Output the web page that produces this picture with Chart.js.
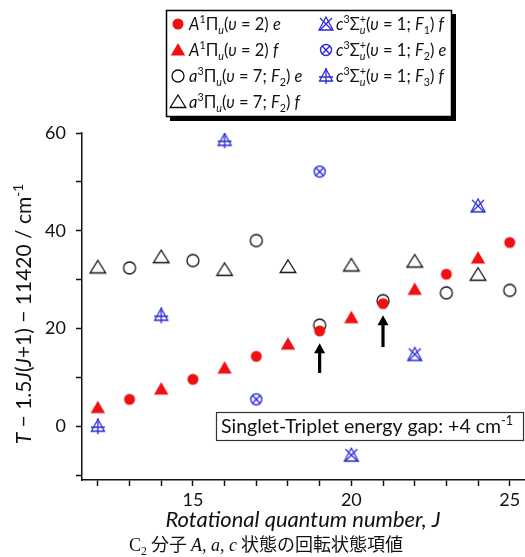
<!DOCTYPE html>
<html><head><meta charset="utf-8">
<script src="https://cdn.jsdelivr.net/npm/chart.js@4/dist/chart.umd.min.js"></script>
<style>html,body{margin:0;padding:0;background:#fff;} #wrap{width:525px;height:557px;position:relative;}</style>
</head><body><div id="wrap"><canvas id="c" width="525" height="557"></canvas></div>
<script>
// ---- data ----
const J_A_e = [13,15,17,19,21,23,25];
const A_e   = [5.5,9.6,14.3,19.5,25.1,31.1,37.6];
const J_A_f = [12,14,16,18,20,22,24];
const A_f   = [3.8,7.6,11.9,16.8,22.2,28.0,34.4];
const J_a_e = [13,15,17,19,21,23,25];
const a_e   = [32.4,33.9,38.0,20.7,25.7,27.3,27.8];
const J_a_f = [12,14,16,18,20,22,24];
const a_f   = [32.5,34.6,32.0,32.6,32.9,33.7,31.0];
const J_c_F1f = [20,22,24];
const c_F1f   = [-5.9,14.7,45.1];
const J_c_F2e = [17,19];
const c_F2e   = [5.5,52.1];
const J_c_F3f = [12,14,16];
const c_F3f   = [0.0,22.7,58.5];
const arrowJ    = [19,21];
const arrowFrom = [10.9,16.2];
const arrowTo   = [17.0,22.7];
const xTickLabels = [15,20,25];
const yTickLabels = [0,20,40,60];

const RED='#ee1111', BLUE='#2a2ad8', BLK='#111111';
const FAM='Lato, "Open Sans", sans-serif';

function drawMarker(g,type,x,y){
  g.save();
  g.lineJoin='miter';
  switch(type){
    case 'dot': g.fillStyle=RED; g.beginPath(); g.arc(x,y,5.5,0,2*Math.PI); g.fill(); break;
    case 'tri': g.fillStyle=RED; g.beginPath(); g.moveTo(x,y-7); g.lineTo(x+7.2,y+5.5); g.lineTo(x-7.2,y+5.5); g.closePath(); g.fill(); break;
    case 'ocirc': g.strokeStyle=BLK; g.lineWidth=1.3; g.beginPath(); g.arc(x,y,6,0,2*Math.PI); g.stroke(); break;
    case 'otri': g.strokeStyle=BLK; g.lineWidth=1.3; g.beginPath(); g.moveTo(x,y-7); g.lineTo(x+7.8,y+5.5); g.lineTo(x-7.8,y+5.5); g.closePath(); g.stroke(); break;
    case 'triX': g.strokeStyle=BLUE; g.lineWidth=1.3; g.beginPath(); g.moveTo(x,y-7); g.lineTo(x+7,y+6); g.lineTo(x-7,y+6); g.closePath(); g.stroke();
      g.beginPath(); g.moveTo(x-6,y-6); g.lineTo(x+6,y+6); g.moveTo(x+6,y-6); g.lineTo(x-6,y+6); g.stroke(); break;
    case 'circX': g.strokeStyle=BLUE; g.lineWidth=1.4; g.beginPath(); g.arc(x,y,5.5,0,2*Math.PI); g.stroke();
      g.beginPath(); g.moveTo(x-3.9,y-3.9); g.lineTo(x+3.9,y+3.9); g.moveTo(x+3.9,y-3.9); g.lineTo(x-3.9,y+3.9); g.stroke(); break;
    case 'triPlus': g.strokeStyle=BLUE; g.lineWidth=1.3; g.beginPath(); g.moveTo(x,y-7); g.lineTo(x+6.5,y+5); g.lineTo(x-6.5,y+5); g.closePath(); g.stroke();
      g.beginPath(); g.moveTo(x,y-8); g.lineTo(x,y+8); g.moveTo(x-7,y+1); g.lineTo(x+7,y+1); g.stroke(); break;
  }
  g.restore();
}
function makeMarker(type){
  const s=22, c=document.createElement('canvas'); c.width=s; c.height=s;
  drawMarker(c.getContext('2d'),type,s/2,s/2); return c;
}
function pts(xs,ys){ return xs.map((x,i)=>({x:x,y:ys[i]})); }

// rich text: segments {t, i, sup, sub} or {stack:true, sup, sub, supI, subI}
function drawRich(ctx,segs,x,y,size,fam,measureOnly){
  let cx=x; const ss=size*0.65;
  for(const s of segs){
    if(s.stack){
      ctx.font=(s.supI?'italic ':'')+ss+'px '+fam; const w1=ctx.measureText(s.sup).width;
      if(!measureOnly) ctx.fillText(s.sup,cx,y-size*0.4);
      ctx.font=(s.subI?'italic ':'')+ss+'px '+fam; const w2=ctx.measureText(s.sub).width;
      if(!measureOnly) ctx.fillText(s.sub,cx,y+size*0.22);
      cx+=Math.max(w1,w2); continue;
    }
    const small=s.sup||s.sub;
    ctx.font=(s.i?'italic ':'')+(small?ss:size)+'px '+(s.fam||fam);
    const dy=s.sup?-size*0.4:(s.sub?size*0.22:0);
    if(!measureOnly) ctx.fillText(s.t,cx,y+dy);
    cx+=ctx.measureText(s.t).width;
  }
  return cx-x;
}

const legendItems = [
  {m:'dot', col:0, row:0, segs:[{t:'A',i:1},{t:'1',sup:1},{t:'Π'},{t:'u',i:1,sub:1},{t:'('},{t:'υ',i:1},{t:' = 2) '},{t:'e',i:1}]},
  {m:'tri', col:0, row:1, segs:[{t:'A',i:1},{t:'1',sup:1},{t:'Π'},{t:'u',i:1,sub:1},{t:'('},{t:'υ',i:1},{t:' = 2) '},{t:'f',i:1}]},
  {m:'ocirc', col:0, row:2, segs:[{t:'a',i:1},{t:'3',sup:1},{t:'Π'},{t:'u',i:1,sub:1},{t:'('},{t:'υ',i:1},{t:' = 7; '},{t:'F',i:1},{t:'2',sub:1},{t:') '},{t:'e',i:1}]},
  {m:'otri', col:0, row:3, segs:[{t:'a',i:1},{t:'3',sup:1},{t:'Π'},{t:'u',i:1,sub:1},{t:'('},{t:'υ',i:1},{t:' = 7; '},{t:'F',i:1},{t:'2',sub:1},{t:') '},{t:'f',i:1}]},
  {m:'triX', col:1, row:0, segs:[{t:'c',i:1},{t:'3',sup:1},{t:'Σ'},{stack:true,sup:'+',sub:'u',subI:1},{t:'('},{t:'υ',i:1},{t:' = 1; '},{t:'F',i:1},{t:'1',sub:1},{t:') '},{t:'f',i:1}]},
  {m:'circX', col:1, row:1, segs:[{t:'c',i:1},{t:'3',sup:1},{t:'Σ'},{stack:true,sup:'+',sub:'u',subI:1},{t:'('},{t:'υ',i:1},{t:' = 1; '},{t:'F',i:1},{t:'2',sub:1},{t:') '},{t:'e',i:1}]},
  {m:'triPlus', col:1, row:2, segs:[{t:'c',i:1},{t:'3',sup:1},{t:'Σ'},{stack:true,sup:'+',sub:'u',subI:1},{t:'('},{t:'υ',i:1},{t:' = 1; '},{t:'F',i:1},{t:'3',sub:1},{t:') '},{t:'f',i:1}]}
];

const overlay = {
  id:'overlay',
  afterDatasetsDraw(chart){
    const ctx=chart.ctx, xs=chart.scales.x, ys=chart.scales.y, ca=chart.chartArea;
    // arrows
    ctx.save(); ctx.strokeStyle='#000'; ctx.fillStyle='#000';
    arrowJ.forEach((j,i)=>{
      const x=xs.getPixelForValue(j), y0=ys.getPixelForValue(arrowFrom[i]), y1=ys.getPixelForValue(arrowTo[i]);
      const hl=10, hw=5.5;
      ctx.lineWidth=3.2; ctx.beginPath(); ctx.moveTo(x,y0); ctx.lineTo(x,y1+hl-1); ctx.stroke();
      ctx.beginPath(); ctx.moveTo(x,y1); ctx.lineTo(x+hw,y1+hl); ctx.lineTo(x-hw,y1+hl); ctx.closePath(); ctx.fill();
    });
    ctx.restore();
    // annotation box
    ctx.save();
    const bx0=216, bx1=524, by0=412, by1=441;
    ctx.fillStyle='#fff'; ctx.fillRect(bx0,by0,bx1-bx0,by1-by0);
    ctx.strokeStyle='#333'; ctx.lineWidth=1.2; ctx.strokeRect(bx0+0.5,by0+0.5,bx1-bx0-1,by1-by0-1);
    ctx.fillStyle='#111'; ctx.textBaseline='alphabetic'; ctx.textAlign='left';
    drawRich(ctx,[{t:'Singlet-Triplet energy gap: +4 cm'},{t:'-1',sup:1}],221,433,19.5,FAM);
    ctx.restore();
  },
  afterDraw(chart){
    const ctx=chart.ctx, ca=chart.chartArea;
    ctx.save(); ctx.textBaseline='alphabetic'; ctx.textAlign='left'; ctx.fillStyle='#111';
    // legend
    const L=166,T=10,R=452,B=117;
    ctx.fillStyle='#000'; ctx.fillRect(L+4,T+4,R-L,B-T);
    ctx.fillStyle='#fff'; ctx.fillRect(L,T,R-L,B-T);
    ctx.strokeStyle='#000'; ctx.lineWidth=1.5; ctx.strokeRect(L+0.5,T+0.5,R-L-1,B-T-1);
    const rowY=[24,50,76,102], mX=[178,326], tX=[189,336];
    legendItems.forEach(it=>{
      drawMarker(ctx,it.m,mX[it.col],rowY[it.row]);
      ctx.fillStyle='#111';
      drawRich(ctx,it.segs,tX[it.col],rowY[it.row]+6,16.5,FAM);
    });
    // y title (rotated)
    const ySegs=[{t:'T',i:1},{t:' − 1.5'},{t:'J',i:1},{t:'('},{t:'J',i:1},{t:'+1) − 11420 / cm'},{t:'-1',sup:1}];
    ctx.save(); ctx.translate(31,314); ctx.rotate(-Math.PI/2);
    const w=drawRich(ctx,ySegs,0,0,21,FAM,true);
    drawRich(ctx,ySegs,-w/2,0,21,FAM);
    ctx.restore();
    // x title
    ctx.font='italic 22px '+FAM; ctx.textAlign='center'; ctx.fillStyle='#111';
    ctx.fillText('Rotational quantum number, J',(ca.left+ca.right)/2,527);
    // caption
    ctx.textAlign='left';
    const SER='"Liberation Serif", "Times New Roman", serif';
    const CJK='"Noto Sans CJK JP", sans-serif';
    const cap=[{t:'C',fam:SER},{t:'2',sub:1,fam:SER},{t:' 分子 ',fam:CJK},{t:'A',i:1,fam:SER},{t:', ',fam:SER},{t:'a',i:1,fam:SER},{t:', ',fam:SER},{t:'c',i:1,fam:SER},{t:' 状態の回転状態項値',fam:CJK}];
    const cw=drawRich(ctx,cap,0,0,18,SER,true);
    drawRich(ctx,cap,266-cw/2,551,18,SER);
    ctx.restore();
  }
};

new Chart(document.getElementById('c'),{
  type:'scatter',
  data:{datasets:[
    {label:'A e', data:pts(J_A_e,A_e), pointStyle:makeMarker('dot')},
    {label:'A f', data:pts(J_A_f,A_f), pointStyle:makeMarker('tri')},
    {label:'a e', data:pts(J_a_e,a_e), pointStyle:makeMarker('ocirc')},
    {label:'a f', data:pts(J_a_f,a_f), pointStyle:makeMarker('otri')},
    {label:'c F1 f', data:pts(J_c_F1f,c_F1f), pointStyle:makeMarker('triX')},
    {label:'c F2 e', data:pts(J_c_F2e,c_F2e), pointStyle:makeMarker('circX')},
    {label:'c F3 f', data:pts(J_c_F3f,c_F3f), pointStyle:makeMarker('triPlus')}
  ]},
  options:{
    responsive:false, animation:false, devicePixelRatio:1,
    layout:{autoPadding:false, padding:{top:133,right:1,left:0,bottom:0}},
    plugins:{legend:{display:false}, tooltip:{enabled:false}},
    elements:{point:{radius:8,hoverRadius:8}},
    scales:{
      x:{type:'linear', min:11.5, max:25.45,
        afterFit(s){ s.height=77; s.paddingRight=0; s.paddingLeft=0; },
        afterBuildTicks(s){ s.ticks=s.ticks.filter(t=>Number.isInteger(t.value)); },
        ticks:{stepSize:1, includeBounds:false, autoSkip:false, maxRotation:0, padding:3, color:'#111',
          font:{family:FAM,size:18}, callback:v=>xTickLabels.includes(v)?String(v):''},
        grid:{drawOnChartArea:false, tickLength:6, tickColor:'#111', tickWidth:1.5},
        border:{color:'#111', width:1.5}},
      y:{type:'linear', min:-11, max:60,
        afterFit(s){ s.width=82; },
        afterBuildTicks(s){ s.ticks=s.ticks.filter(t=>t.value%10===0); },
        ticks:{stepSize:10, includeBounds:false, autoSkip:false, padding:10, color:'#111',
          font:{family:FAM,size:18}, callback:v=>yTickLabels.includes(v)?String(v):''},
        grid:{drawOnChartArea:false, tickLength:6, tickColor:'#111', tickWidth:1.5},
        border:{color:'#111', width:1.5}}
    }
  },
  plugins:[overlay]
});
</script></body></html>
